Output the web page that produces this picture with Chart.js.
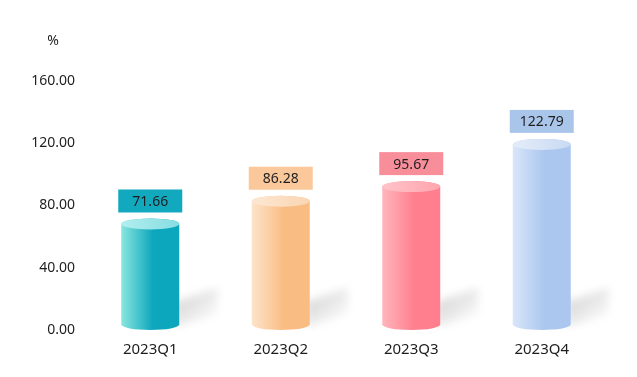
<!DOCTYPE html>
<html>
<head>
<meta charset="utf-8">
<script src="https://cdn.jsdelivr.net/npm/chart.js@4"></script>
<style>
  html, body { margin: 0; padding: 0; background: #fff; }
  #wrap { width: 637px; height: 377px; position: relative; }
</style>
</head>
<body>
<div id="wrap"><canvas id="chart"></canvas></div>
<script>
// quarterly values (%)
const categories = ['2023Q1', '2023Q2', '2023Q3', '2023Q4'];
const values = [71.66, 86.28, 95.67, 122.79];
const yMin = 0, yMax = 160, yStep = 40;
const unitLabel = '%';

// cylinder colours: light side, dark side, top cap, label box
const sideLight = ['#8ae6df', '#fde4cb', '#ffb6bc', '#d9e6f9'];
const sideDark  = ['#0ca7bd', '#f9bd83', '#ff7f8f', '#abc7ef'];
const capLight  = ['#b2eeee', '#fde7d3', '#ffc3c8', '#e4ecf9'];
const capDark   = ['#86dde2', '#fad5b2', '#ffa5ae', '#c9daf3'];
const boxColors = ['#12a9bf', '#fbc89b', '#f98e9b', '#a9c6ea'];

const FONT = "'Noto Sans', 'DejaVu Sans', sans-serif";
const TEXT = '#1e1e1e';

const cylinderPlugin = {
  id: 'cylinders',
  afterDatasetsDraw(chart) {
    const ctx = chart.ctx;
    const meta = chart.getDatasetMeta(0);
    const ry = 5.5;

    meta.data.forEach((bar, i) => {
      const w = bar.width;
      const x = bar.x;
      const left = x - w / 2, right = x + w / 2;
      const top = bar.y, base = bar.base;

      // soft shadow to the right of the foot
      ctx.save();
      ctx.filter = 'blur(4px)';
      const sg = ctx.createLinearGradient(right, base - 34, right + 30, base);
      sg.addColorStop(0, 'rgba(0,0,0,0.16)');
      sg.addColorStop(1, 'rgba(0,0,0,0)');
      ctx.fillStyle = sg;
      ctx.beginPath();
      ctx.moveTo(right - 4, base - 3);
      ctx.lineTo(right - 4, base - 28);
      ctx.lineTo(right + 38, base - 42);
      ctx.lineTo(right + 38, base - 16);
      ctx.closePath();
      ctx.fill();
      ctx.restore();

      // body
      ctx.save();
      const g = ctx.createLinearGradient(left, 0, right, 0);
      g.addColorStop(0, sideLight[i]);
      g.addColorStop(0.55, sideDark[i]);
      g.addColorStop(1, sideDark[i]);
      ctx.fillStyle = g;
      ctx.beginPath();
      ctx.moveTo(left, top + ry);
      ctx.lineTo(left, base - ry);
      ctx.ellipse(x, base - ry, w / 2, ry, 0, Math.PI, 0, true);
      ctx.lineTo(right, top + ry);
      ctx.ellipse(x, top + ry, w / 2, ry, 0, 0, Math.PI, true);
      ctx.closePath();
      ctx.fill();

      // top cap
      const cg = ctx.createLinearGradient(left, 0, right, 0);
      cg.addColorStop(0, capLight[i]);
      cg.addColorStop(1, capDark[i]);
      ctx.fillStyle = cg;
      ctx.beginPath();
      ctx.ellipse(x, top + ry, w / 2, ry, 0, 0, Math.PI * 2);
      ctx.fill();

      // value label box
      const bw = 64, bh = 23;
      const by = top - 6 - bh;
      ctx.fillStyle = boxColors[i];
      ctx.fillRect(x - bw / 2, by, bw, bh);
      ctx.fillStyle = TEXT;
      ctx.font = '14px ' + FONT;
      ctx.textAlign = 'center';
      ctx.textBaseline = 'middle';
      ctx.fillText(values[i].toFixed(2), x, by + bh / 2 + 1);
      ctx.restore();
    });

    // unit above the y axis
    const ys = chart.scales.y;
    ctx.save();
    ctx.font = '14px ' + FONT;
    const labelRight = ys.right - 10;
    const wide = ctx.measureText(yMax.toFixed(2)).width;
    ctx.fillStyle = TEXT;
    ctx.textAlign = 'center';
    ctx.textBaseline = 'middle';
    ctx.fillText(unitLabel, labelRight - wide / 2, chart.chartArea.top - 40);
    ctx.restore();
  }
};

new Chart(document.getElementById('chart'), {
  type: 'bar',
  data: {
    labels: categories,
    datasets: [{
      data: values,
      backgroundColor: 'rgba(0,0,0,0)',
      borderWidth: 0,
      barThickness: 58,
    }]
  },
  options: {
    responsive: true,
    maintainAspectRatio: false,
    animation: false,
    layout: { padding: { top: 81, right: 30, bottom: 7, left: 0 } },
    plugins: {
      legend: { display: false },
      tooltip: { enabled: false },
    },
    scales: {
      x: {
        grid: { display: false, drawTicks: false },
        border: { display: false },
        ticks: { color: TEXT, font: { family: FONT, size: 15 }, padding: 11 },
      },
      y: {
        min: yMin,
        max: yMax,
        grid: { display: false, drawTicks: false },
        border: { display: false },
        ticks: {
          stepSize: yStep,
          color: TEXT,
          padding: 10,
          font: { family: FONT, size: 14 },
          callback: (v) => Number(v).toFixed(2),
        },
        afterFit: (scale) => { scale.width = 85; },
      },
    },
  },
  plugins: [cylinderPlugin],
});
</script>
</body>
</html>
